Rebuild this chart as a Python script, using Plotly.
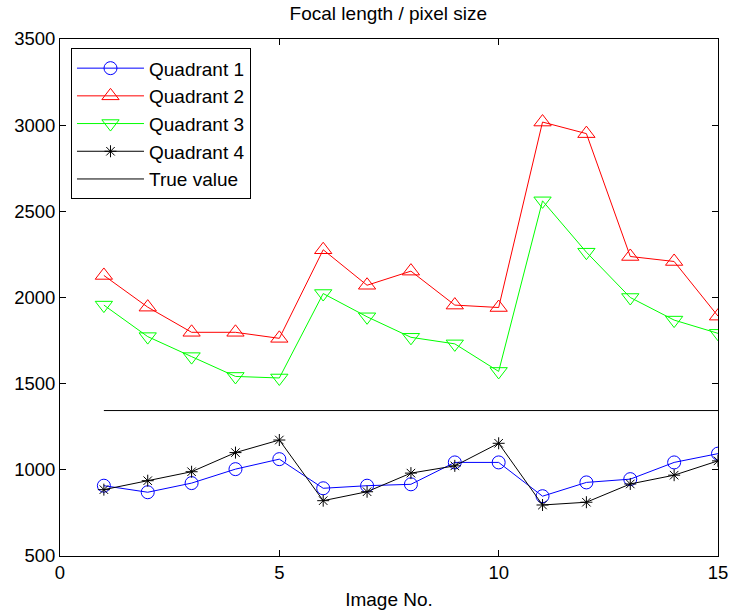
import plotly.graph_objects as go

# Image index for each calibration shot
images = list(range(1, 16))

# Estimated focal length / pixel size per quadrant
quadrant1 = [908, 870, 923, 1004, 1062, 893, 908, 916, 1043, 1043, 847, 927, 946, 1043, 1094]
quadrant2 = [2128, 1944, 1798, 1798, 1763, 2277, 2071, 2153, 1956, 1942, 3018, 2951, 2238, 2209, 1892]
quadrant3 = [1956, 1773, 1657, 1542, 1533, 2023, 1888, 1769, 1731, 1571, 2561, 2263, 2000, 1869, 1792]
quadrant4 = [885, 937, 989, 1100, 1173, 821, 873, 981, 1023, 1154, 796, 812, 918, 969, 1052]
true_value = 1344

x_ticks = [0, 5, 10, 15]
y_ticks = [500, 1000, 1500, 2000, 2500, 3000, 3500]

FONT = "Liberation Sans, Arial, sans-serif"

fig = go.Figure()

series = [
    ("Quadrant 1", quadrant1, "#0000FF", "circle-open", 13),
    ("Quadrant 2", quadrant2, "#FF0000", "triangle-up-open", 15),
    ("Quadrant 3", quadrant3, "#00FF00", "triangle-down-open", 15),
    ("Quadrant 4", quadrant4, "#000000", "asterisk-open", 10),
]
for name, vals, color, symbol, size in series:
    fig.add_trace(go.Scatter(
        x=images, y=vals, name=name, mode="lines+markers",
        line=dict(color=color, width=1),
        marker=dict(symbol=symbol, size=size, color=color, line=dict(color=color, width=1)),
    ))

fig.add_trace(go.Scatter(
    x=[images[0], images[-1]], y=[true_value, true_value], name="True value",
    mode="lines", line=dict(color="#000000", width=1),
))

axis_common = dict(
    showgrid=False, zeroline=False, showline=True, linecolor="#000000", linewidth=1,
    mirror="ticks", ticks="inside", ticklen=6, tickcolor="#000000",
    tickfont=dict(family=FONT, size=18.5, color="#000000"),
    automargin=False,
)

fig.update_layout(
    width=730, height=615,
    paper_bgcolor="#FFFFFF", plot_bgcolor="#FFFFFF",
    margin=dict(l=60, r=12, t=39, b=59),
    title=dict(text="Focal length / pixel size", x=0.532, xanchor="center",
               y=0.979, yanchor="middle",
               font=dict(family=FONT, size=19, color="#000000")),
    xaxis=dict(range=[0, 15], tickvals=x_ticks,
               title=dict(text="Image No.", font=dict(family=FONT, size=19, color="#000000"), standoff=10),
               **axis_common),
    yaxis=dict(range=[500, 3500], tickvals=y_ticks, **axis_common),
    legend=dict(x=0.0167, y=0.982, xanchor="left", yanchor="top",
                bgcolor="#FFFFFF", bordercolor="#000000", borderwidth=1,
                font=dict(family=FONT, size=19, color="#000000"),
                itemwidth=67, tracegroupgap=0),
    showlegend=True,
)

fig.write_html("out.html")
